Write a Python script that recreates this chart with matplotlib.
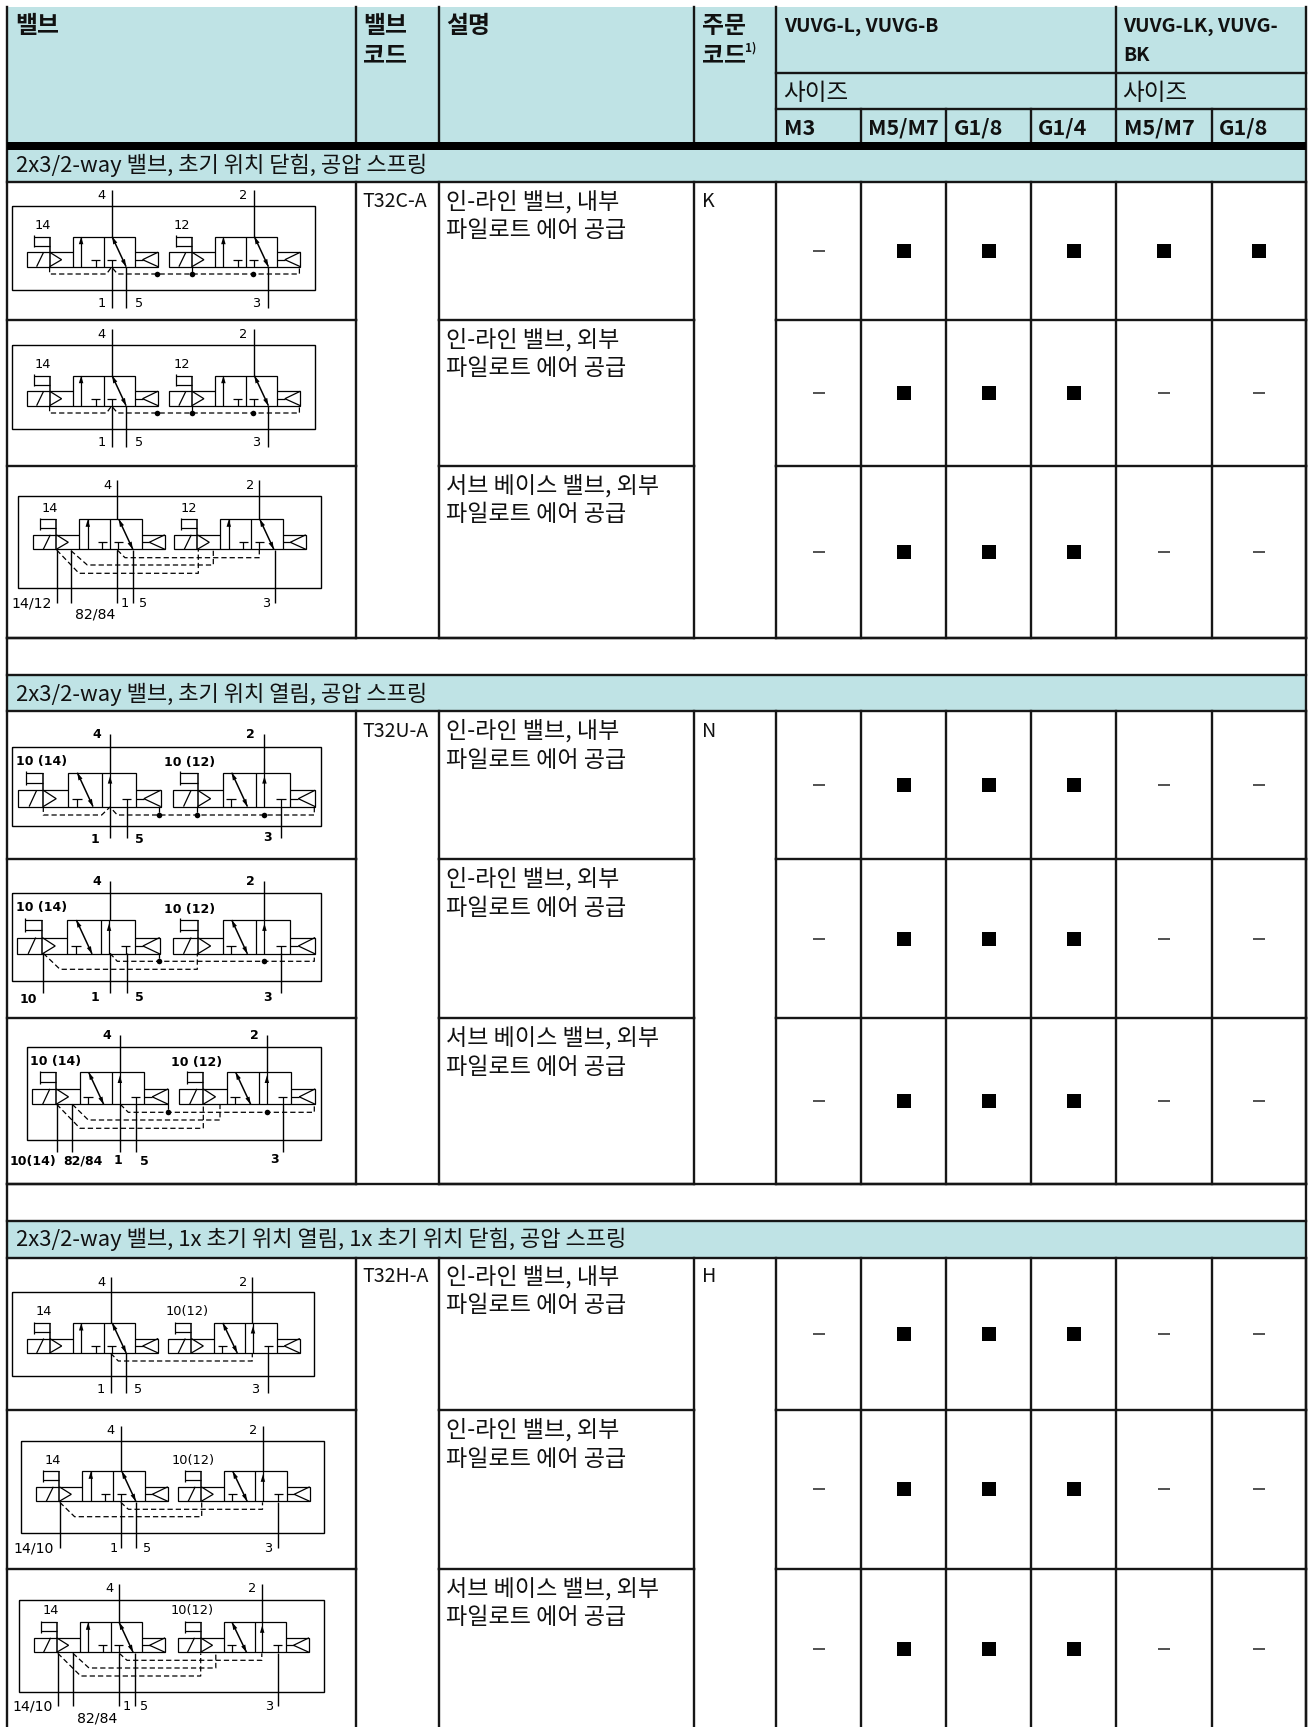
import matplotlib
matplotlib.use('Agg')
from matplotlib import pyplot as plt
from matplotlib.patches import Rectangle, Polygon

# table content
header_cells = ['밸브', '밸브\n코드', '설명', '주문\n코드']
group_names = ['VUVG-L, VUVG-B', 'VUVG-LK, VUVG-\nBK']
size_label = '사이즈'
size_names = ['M3', 'M5/M7', 'G1/8', 'G1/4', 'M5/M7', 'G1/8']
sections = ['2x3/2-way 밸브, 초기 위치 닫힘, 공압 스프링',
            '2x3/2-way 밸브, 초기 위치 열림, 공압 스프링',
            '2x3/2-way 밸브, 1x 초기 위치 열림, 1x 초기 위치 닫힘, 공압 스프링']
valve_codes = ['T32C-A', 'T32U-A', 'T32H-A']
order_codes = ['K', 'N', 'H']
descriptions = ['인-라인 밸브, 내부\n파일로트 에어 공급',
                '인-라인 밸브, 외부\n파일로트 에어 공급',
                '서브 베이스 밸브, 외부\n파일로트 에어 공급']
available = [[0, 1, 1, 1, 1, 1],
             [0, 1, 1, 1, 0, 0],
             [0, 1, 1, 1, 0, 0],
             [0, 1, 1, 1, 0, 0],
             [0, 1, 1, 1, 0, 0],
             [0, 1, 1, 1, 0, 0],
             [0, 1, 1, 1, 0, 0],
             [0, 1, 1, 1, 0, 0],
             [0, 1, 1, 1, 0, 0]]

# layout in pixels of the page
col_x = [7, 355.5, 438.5, 694, 776, 861, 946, 1031, 1116, 1212, 1306]
TOP, SUB1, SUB2, RULE0, RULE1 = 7, 73, 109, 142, 150
section_y = [(150, 182), (675, 711), (1221, 1257.5)]
row_y = [(182, 320), (320, 466), (466, 638),
         (711, 859), (859, 1018), (1018, 1184),
         (1257.5, 1410), (1410, 1568.5), (1568.5, 1730)]
TEAL = '#BFE3E5'
INK = '#161616'
KR = ['Liberation Sans Narrow', 'Noto Sans CJK KR', 'DejaVu Sans']
KR_ONLY = ['Noto Sans CJK KR', 'DejaVu Sans']

fig = plt.figure(figsize=(13.08, 17.27), dpi=100)
ax = fig.add_axes([0, 0, 1, 1])
ax.set_xlim(0, 1308)
ax.set_ylim(1727, 0)
ax.axis('off')


def rule(x0, y0, x1, y1, lw=1.7):
    ax.plot([x0, x1], [y0, y1], color=INK, lw=lw, solid_capstyle='projecting', zorder=3)


def txt(x, y, s, size=16.6, weight='normal', family=KR, **kw):
    ax.text(x, y, s, fontsize=size, fontweight=weight, family=family, va='center', ha='left',
            color='#111111', linespacing=1.0, **kw)


def multiline(x, y, s, step=29, **kw):
    for i, part in enumerate(s.split('\n')):
        txt(x, y + i * step, part, **kw)


# header and section bands
ax.add_patch(Rectangle((col_x[0], TOP), col_x[-1] - col_x[0], RULE0 - TOP, fc=TEAL, ec='none'))
for y0, y1 in section_y:
    ax.add_patch(Rectangle((col_x[0], y0), col_x[-1] - col_x[0], y1 - y0, fc=TEAL, ec='none'))
ax.add_patch(Rectangle((col_x[0], RULE0), col_x[-1] - col_x[0], RULE1 - RULE0, fc='black', ec='none', zorder=4))

# outer and header rules
rule(col_x[0], TOP, col_x[0], 1727)
rule(col_x[-1], TOP, col_x[-1], 1727)
for x in col_x[1:5]:
    rule(x, TOP, x, RULE0)
rule(col_x[8], TOP, col_x[8], RULE0)
for x in col_x[5:8] + [col_x[9]]:
    rule(x, SUB2, x, RULE0)
rule(col_x[4], SUB1, col_x[-1], SUB1)
rule(col_x[4], SUB2, col_x[-1], SUB2)

# section borders
for y0, y1 in section_y:
    rule(col_x[0], y1, col_x[-1], y1)
for y in [section_y[1][0], section_y[2][0]]:
    rule(col_x[0], y, col_x[-1], y)

# body rules, code columns are merged over a section
for i, (y0, y1) in enumerate(row_y):
    for x in col_x[1:]:
        rule(x, y0, x, y1)
    if y1 < 1727:
        rule(col_x[0], y1, col_x[1], y1)
        rule(col_x[2], y1, col_x[3], y1)
        rule(col_x[4], y1, col_x[-1], y1)
for end in [row_y[2][1], row_y[5][1]]:
    rule(col_x[0], end, col_x[-1], end)

# header text
text_x = [15.5, 363.5, 446.5, 702]
for x, s in zip(text_x, header_cells):
    multiline(x, 26, s, weight='bold', size=17.2, family=KR_ONLY)
txt(745, 48, '1)', size=8.5, weight='bold', family=KR_ONLY)
multiline(784, 26, group_names[0], weight='bold', size=14, family=KR_ONLY)
multiline(1123.5, 26, group_names[1], weight='bold', size=14, family=KR_ONLY)
txt(783, 93, size_label, size=17, family=KR_ONLY)
txt(1122.5, 93, size_label, size=17, family=KR_ONLY)
size_x = [784, 868.5, 954, 1038, 1123.5, 1219]
for x, s in zip(size_x, size_names):
    txt(x, 128, s, weight='bold', size=15.5, family=KR_ONLY)

# section and row text
section_text_y = [165, 694, 1239.5]
for y, s in zip(section_text_y, sections):
    txt(15.5, y, s, size=15.9)
row_text_y = [201.5, 339.5, 485.5, 731, 879, 1038, 1277, 1430, 1589]
for i, y in enumerate(row_text_y):
    multiline(446.5, y, descriptions[i % 3])
    if i % 3 == 0:
        txt(362.5, y, valve_codes[i // 3], size=14.1, family=KR_ONLY)
        txt(702, y, order_codes[i // 3], size=14.1, family=KR_ONLY)

# availability marks
for row, (y0, y1) in zip(available, row_y):
    y = (y0 + y1) / 2
    for j, v in enumerate(row):
        x = (col_x[j + 4] + col_x[j + 5]) / 2
        if v:
            ax.plot(x, y, marker='s', ms=10, color='black', mew=0, zorder=5)
        else:
            ax.plot(x, y, marker='_', ms=8, mew=1.1, color='#222222', zorder=5)


# schematics
LW = 0.9
DASH = (0, (4.2, 2.4))


def ln(pts, lw=LW, **kw):
    xs, ys = zip(*pts)
    ax.plot(xs, ys, color='black', lw=lw, solid_capstyle='butt', solid_joinstyle='miter', **kw)


def head(x, y, dx, dy, size=7.5):
    n = (dx * dx + dy * dy) ** 0.5
    dx, dy = dx / n, dy / n
    b = (x + dx * size, y + dy * size)
    w = size * 0.3
    ax.add_patch(Polygon([(x, y), (b[0] - dy * w, b[1] + dx * w), (b[0] + dy * w, b[1] - dx * w)],
                         fc='black', ec='none'))


def valve(x0, ytop, mode, sx=1.0, sy=1.0):
    def p(u, v):
        return (x0 + u * sx, ytop + v * sy)

    # solenoid with manual override
    ln([p(46, 15.5), p(0, 15.5), p(0, 30), p(46, 30)])
    ln([p(10, 30), p(17, 15.5)])
    ln([p(23, 0), p(23, 30)], lw=1.1)
    ln([p(7, 9), p(23, 9)])
    ln([p(7, 0), p(23, 0)])
    ln([p(7, -1.5), p(7, 10.5)])
    ln([p(23, 15.5), p(35, 23), p(23, 30)])
    # body
    ln([p(46, 30), p(46, 0), p(108.5, 0), p(108.5, 30), p(46, 30)])
    ln([p(77, 0), p(77, 30)])
    # spring
    ln([p(108.5, 15.5), p(131.5, 15.5), p(131.5, 30), p(108.5, 30)])
    ln([p(131.5, 15.5), p(116, 23), p(131.5, 30)])
    ln([p(108.5, 23), p(116, 23)])

    def tee(u):
        ln([p(u - 4.5, 23), p(u + 4.5, 23)])
        ln([p(u, 23), p(u, 30)])

    def diag(u0, u1):
        ln([p(u0, 0), p(u1, 30)], lw=1.1)
        a, b = p(u0, 0), p(u1, 30)
        head(a[0], a[1], b[0] - a[0], b[1] - a[1])
        head(b[0], b[1], a[0] - b[0], a[1] - b[1])

    if mode == 'C':
        ln([p(54.5, 30), p(54.5, 0)])
        head(*p(54.5, 0), 0, 1)
        tee(69)
        tee(85)
        diag(85.5, 99.5)
    else:
        tee(54)
        diag(54.5, 69)
        ln([p(84.7, 30), p(84.7, 0)])
        head(*p(84.7, 3), 0, 1)
        tee(100)


def diagram(frame, valves, ports, dashes, dots, labels, bold=False, sx=1.0, sy=1.0):
    ln([(frame[0], frame[1]), (frame[2], frame[1]), (frame[2], frame[3]), (frame[0], frame[3]), (frame[0], frame[1])], lw=1.0)
    for x0, ytop, mode in valves:
        valve(x0, ytop, mode, sx, sy)
    for x, y0, y1 in ports:
        ln([(x, y0), (x, y1)], lw=1.0)
    for pts in dashes:
        xs, ys = zip(*pts)
        ax.plot(xs, ys, color='black', lw=0.9, ls=DASH)
    for x, y in dots:
        ax.plot(x, y, 'o', ms=4.0, color='black', mew=0, zorder=4)
    for s, x, y in labels:
        size = 9.0 if bold else (10.2 if '/' in s else 9.3)
        ax.text(x, y, s, ha='center', va='center', color='black', family='DejaVu Sans',
                fontsize=size, fontweight='bold' if bold else 'normal')


# section 1, in-line
for dy in (0, 139):
    diagram((12, 205.7 + dy, 314.5, 289.7 + dy),
            [(26.6, 236.7 + dy, 'C'), (168.9, 236.7 + dy, 'C')],
            [(111.6, 190 + dy, 236.7 + dy), (253.6, 190 + dy, 236.7 + dy),
             (111.6, 267 + dy, 308 + dy), (126, 267 + dy, 308 + dy), (267.8, 267 + dy, 308 + dy)],
            [[(49.6, 267 + dy), (49.6, 274 + dy), (106.5, 274 + dy), (111.6, 267 + dy),
              (117.5, 274 + dy), (299.4, 274 + dy), (299.4, 267 + dy)],
             [(191.5, 267 + dy), (191.5, 274 + dy)]],
            [(157, 274 + dy), (191.5, 274 + dy), (253.4, 274 + dy)],
            [('4', 101, 195.7 + dy), ('2', 243.3, 195.7 + dy), ('14', 42.7, 225 + dy), ('12', 181.8, 225 + dy),
             ('1', 102, 303.3 + dy), ('5', 138.7, 303.3 + dy), ('3', 256.2, 303.3 + dy)])

# section 1, sub base
diagram((17.7, 496, 321.3, 588.3),
        [(33.3, 519.3, 'C'), (174.3, 519.3, 'C')],
        [(117.3, 480, 519.3), (259.3, 480, 519.3), (117.3, 550, 603), (132.7, 550, 603),
         (275, 550, 603), (56.7, 550, 603), (71, 550, 603)],
        [[(56.7, 550), (79, 573.3), (198.3, 573.3), (198.3, 550)],
         [(71, 550.7), (87.3, 565), (213.3, 565), (213.3, 550)],
         [(117.3, 550), (125, 557.7), (259.3, 557.7), (259.3, 550)]],
        [],
        [('4', 107.3, 485), ('2', 250, 485), ('14', 50, 508.3), ('12', 189, 508.3), ('14/12', 31.7, 603.3),
         ('82/84', 95, 615), ('1', 125, 603.3), ('5', 143.3, 603.3), ('3', 265.7, 603.3)])

# section 2, in-line
diagram((12.3, 746.7, 320.7, 825.7),
        [(18.3, 772.7, 'O'), (172.7, 772.7, 'O')],
        [(110, 734, 772.7), (110, 806.7, 838), (126.7, 806.7, 838), (264.3, 734, 772.7), (281, 806.7, 838)],
        [[(43.3, 806.7), (43.3, 815), (101.7, 815), (110, 807), (117.3, 815), (314.3, 815), (314.3, 806.7)],
         [(159.3, 806.7), (159.3, 815)], [(197.3, 806.7), (197.3, 815)]],
        [(159.3, 815), (197.3, 815), (264.3, 815)],
        [('4', 96.7, 734), ('2', 250.7, 734), ('10 (14)', 41.7, 761.7), ('10 (12)', 190, 762),
         ('1', 95, 839), ('5', 139.3, 839), ('3', 267.3, 837)],
        bold=True, sx=1.083, sy=1.13)

diagram((12.3, 892.7, 320.7, 980.7),
        [(17.3, 920, 'O'), (172.7, 920, 'O')],
        [(110, 880.7, 920), (110, 953.3, 993), (126.7, 953.3, 993), (264.3, 880.7, 920),
         (281, 953.3, 993), (43.3, 953.3, 993)],
        [[(43.3, 953.3), (60, 969.3), (197.3, 969.3), (197.3, 953.3)],
         [(110, 953.3), (117.3, 961.3), (314.3, 961.3), (314.3, 953.3)],
         [(159.3, 953.3), (159.3, 961.3)]],
        [(159.3, 961.3), (264.3, 961.3)],
        [('4', 96.7, 881), ('2', 250.7, 881), ('10 (14)', 41.7, 907.7), ('10 (12)', 190, 909), ('10', 28.3, 999),
         ('1', 95, 997), ('5', 139.3, 997), ('3', 267.3, 997)],
        bold=True, sx=1.083, sy=1.13)

# section 2, sub base
diagram((27.3, 1047, 321, 1140),
        [(32.3, 1072.3, 'O'), (179.3, 1072.3, 'O')],
        [(120.3, 1035, 1072.3), (120.3, 1104.3, 1152.3), (135.7, 1104.3, 1152.3), (266.7, 1035, 1072.3),
         (283.3, 1104.3, 1152.3), (56.7, 1104.3, 1152.3), (72.3, 1104.3, 1152.3)],
        [[(56.7, 1104.3), (80, 1128.3), (203.3, 1128.3), (203.3, 1104.3)],
         [(72.3, 1104.3), (88.3, 1120), (220, 1120), (220, 1104.3)],
         [(120.3, 1104.3), (128.3, 1112.3), (314.3, 1112.3), (314.3, 1104.3)],
         [(167.7, 1104.3), (167.7, 1112.3)]],
        [(167.7, 1112.3), (266.7, 1112.3)],
        [('4', 107.3, 1035.7), ('2', 254.3, 1035.7), ('10 (14)', 55.7, 1061.7), ('10 (12)', 196.7, 1062.7),
         ('10(14)', 33.3, 1161), ('82/84', 82.7, 1161), ('1', 117.7, 1161), ('5', 144, 1161.7), ('3', 274.3, 1159.3)],
        bold=True, sx=1.034, sy=1.067)

# section 3, in-line
diagram((11.7, 1292.3, 314, 1376),
        [(26.7, 1323, 'C'), (168.3, 1323, 'O')],
        [(110.7, 1276.7, 1323), (110.7, 1353.3, 1392.7), (126, 1353.3, 1392.7), (252.3, 1276.7, 1323),
         (267.7, 1353.3, 1392.7)],
        [[(110.7, 1353.3), (118.3, 1361), (252.3, 1361), (252.3, 1353.3)]],
        [],
        [('4', 101, 1282.3), ('2', 242.7, 1282.3), ('14', 43.3, 1311.7), ('10(12)', 187.3, 1311),
         ('1', 101, 1389.3), ('5', 138.3, 1389.3), ('3', 255, 1389.3)])

diagram((20.8, 1441, 324.4, 1533.3),
        [(36.3, 1471.3, 'C'), (178.2, 1471.3, 'O')],
        [(120.7, 1426, 1471.3), (120.7, 1502.3, 1548.3), (136, 1502.3, 1548.3), (262.5, 1426, 1471.3),
         (278.3, 1502.3, 1548.3), (59.8, 1502.3, 1548.3)],
        [[(59.8, 1502.3), (74.6, 1516.7), (201.7, 1516.7), (201.7, 1502.3)],
         [(120.7, 1502.3), (128.4, 1509.3), (262.5, 1509.3), (262.5, 1502.3)]],
        [],
        [('4', 110.6, 1430), ('2', 252.8, 1430), ('14', 52.8, 1460.7), ('10(12)', 193.3, 1460.7),
         ('14/10', 33.6, 1549), ('1', 113.6, 1548.3), ('5', 147.2, 1548.3), ('3', 268.2, 1548.3)])

diagram((18.5, 1600, 324.4, 1692.3),
        [(33.6, 1622.3, 'C'), (177.5, 1622.3, 'O')],
        [(119.3, 1584, 1622.3), (119.3, 1653.3, 1706), (135.1, 1653.3, 1706), (261.8, 1584, 1622.3),
         (277.6, 1653.3, 1706), (57.8, 1653.3, 1706), (72.9, 1653.3, 1706)],
        [[(57.8, 1653.3), (80.7, 1676), (200.7, 1676), (200.7, 1653.3)],
         [(72.9, 1653.3), (89, 1668), (215.8, 1668), (215.8, 1653.3)],
         [(119.3, 1653.3), (127, 1660.3), (261.8, 1660.3), (261.8, 1653.3)]],
        [],
        [('4', 109.2, 1588.3), ('2', 252, 1588.3), ('14', 51, 1610.7), ('10(12)', 192.3, 1610.7),
         ('14/10', 33, 1706.7), ('82/84', 96.8, 1718.3), ('1', 127, 1706.7), ('5', 144.5, 1706.7), ('3', 269.6, 1706.7)])

fig.savefig('out.png', dpi=100)
